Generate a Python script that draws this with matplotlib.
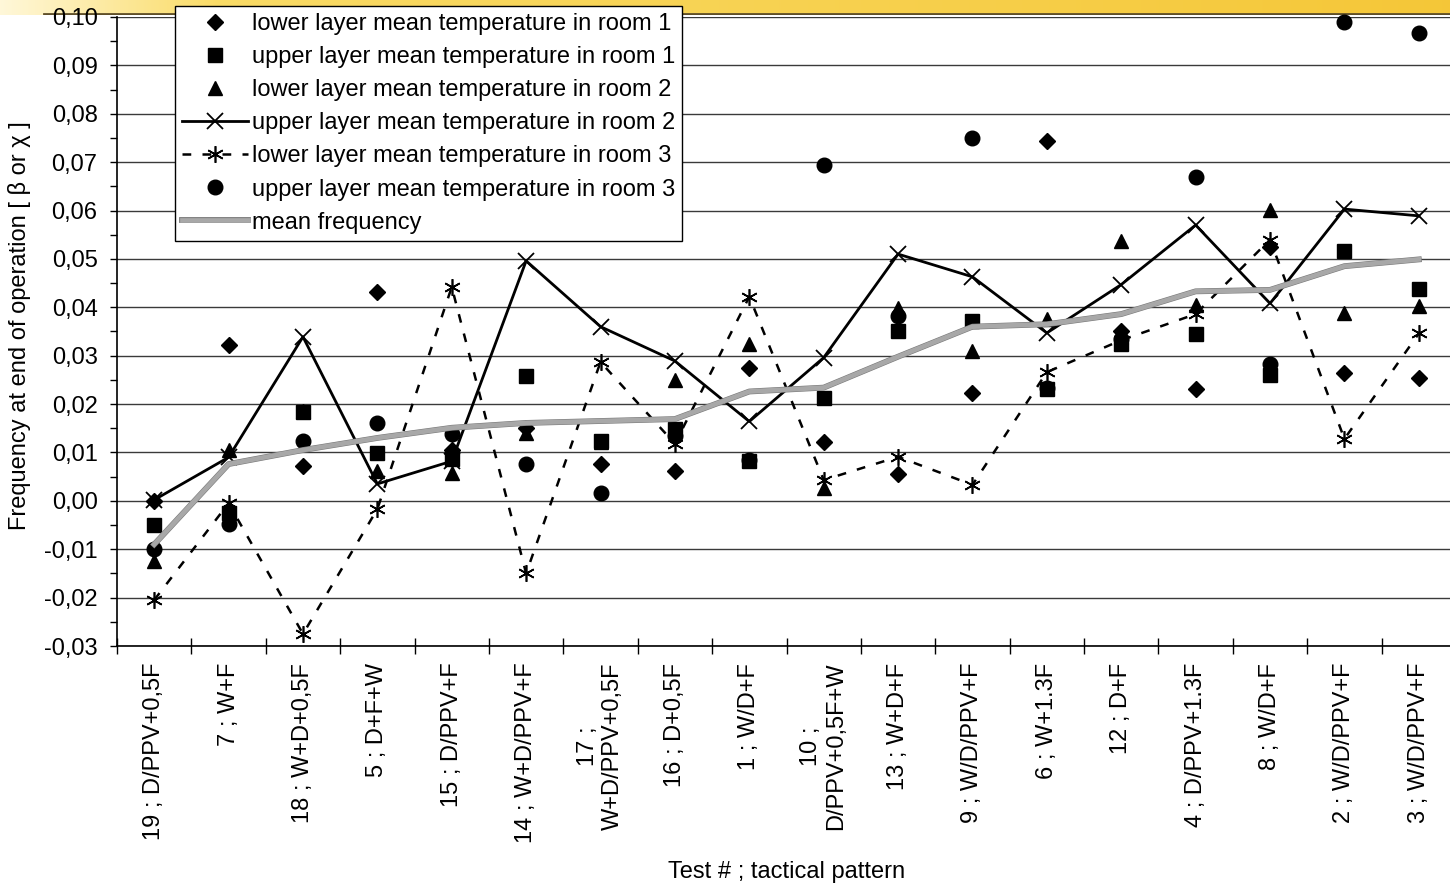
import numpy as np
import matplotlib
matplotlib.use('Agg')
import matplotlib.pyplot as plt
from matplotlib.ticker import FuncFormatter, MultipleLocator
import matplotlib.patheffects as pe

plt.rcParams['font.family'] = ['Liberation Sans', 'DejaVu Sans']

# x categories: test # ; tactical pattern
labels = ["19 ; D/PPV+0,5F", "7 ; W+F", "18 ; W+D+0,5F", "5 ; D+F+W",
          "15 ; D/PPV+F", "14 ; W+D/PPV+F", "17 ;\nW+D/PPV+0,5F", "16 ; D+0,5F",
          "1 ; W/D+F", "10 ;\nD/PPV+0,5F+W", "13 ; W+D+F", "9 ; W/D/PPV+F",
          "6 ; W+1.3F", "12 ; D+F", "4 ; D/PPV+1.3F", "8 ; W/D+F",
          "2 ; W/D/PPV+F", "3 ; W/D/PPV+F"]

# frequency values
lower_room1 = [0.0000, 0.0322, 0.0072, 0.0432, 0.0105, 0.0151, 0.0077, 0.0062, 0.0275,
               0.0122, 0.0056, 0.0223, 0.0744, 0.0351, 0.0231, 0.0524, 0.0265, 0.0254]
upper_room1 = [-0.0050, -0.0025, 0.0184, 0.0099, 0.0087, 0.0258, 0.0124, 0.0149, 0.0083,
               0.0213, 0.0351, 0.0372, 0.0232, 0.0324, 0.0345, 0.0260, 0.0516, 0.0437]
lower_room2 = [-0.0125, 0.0105, 0.0185, 0.0062, 0.0058, 0.0141, 0.0122, 0.0250, 0.0325,
               0.0027, 0.0399, 0.0310, 0.0376, 0.0537, 0.0405, 0.0602, 0.0389, 0.0403]
upper_room2 = [0.0002, 0.0090, 0.0339, 0.0035, 0.0082, 0.0496, 0.0360, 0.0289, 0.0164,
               0.0296, 0.0510, 0.0463, 0.0347, 0.0447, 0.0570, 0.0408, 0.0603, 0.0589]
lower_room3 = [-0.0205, -0.0005, -0.0275, -0.0017, 0.0442, -0.0150, 0.0287, 0.0118, 0.0422,
               0.0043, 0.0091, 0.0033, 0.0266, 0.0332, 0.0386, 0.0540, 0.0128, 0.0346]
upper_room3 = [-0.0100, -0.0047, 0.0124, 0.0161, 0.0138, 0.0076, 0.0016, 0.0135, 0.0085,
               0.0694, 0.0382, 0.0750, 0.0234, 0.0335, 0.0670, 0.0283, 0.0990, 0.0967]
mean_freq = [-0.0090, 0.0076, 0.0105, 0.0130, 0.0151, 0.0161, 0.0165, 0.0169, 0.0226,
             0.0234, 0.0298, 0.0360, 0.0365, 0.0386, 0.0433, 0.0436, 0.0485, 0.0499]

x = np.arange(len(labels))
fs = 17

fig = plt.figure(figsize=(14.5, 8.88), dpi=100)

# yellow brush banner at the top
ban = fig.add_axes([0, 1 - 15 / 888, 1, 15 / 888])
grad = np.linspace(0, 1, 512)
cols = np.zeros((1, 512, 3))
c0 = np.array([1.0, 0.97, 0.85])
c1 = np.array([0.98, 0.86, 0.40])
c2 = np.array([0.96, 0.78, 0.22])
for i, g in enumerate(grad):
    if g < 0.15:
        cols[0, i] = c0 + (c1 - c0) * g / 0.15
    else:
        cols[0, i] = c1 + (c2 - c1) * (g - 0.15) / 0.85
ban.imshow(cols, aspect='auto', extent=[0, 1, 0, 1])
ban.axhline(0.08, xmin=0.03, xmax=1, color='#5e4e28', lw=2)
ban.set_xlim(0, 1)
ban.set_ylim(0, 1)
ban.axis('off')

ax = fig.add_axes([117 / 1450, 1 - 646 / 888, 1339 / 1450, 629 / 888])

ms = 10.5
ax.plot(x, lower_room1, linestyle='none', marker='D', ms=8.5, color='black',
        label='lower layer mean temperature in room 1', zorder=3, clip_on=False)
ax.plot(x, upper_room1, linestyle='none', marker='s', ms=ms, color='black',
        label='upper layer mean temperature in room 1', zorder=3, clip_on=False)
ax.plot(x, lower_room2, linestyle='none', marker='^', ms=ms, color='black',
        label='lower layer mean temperature in room 2', zorder=3, clip_on=False)
ax.plot(x, upper_room2, linestyle='-', lw=2, marker='x', ms=11, mew=1.3, color='black',
        label='upper layer mean temperature in room 2', zorder=3, clip_on=False)
ax.plot(x, lower_room3, linestyle=(0, (3.5, 4.5)), lw=1.8, marker=(6, 2, 0), ms=12, mew=1.2,
        color='black', label='lower layer mean temperature in room 3', zorder=3, clip_on=False)
ax.plot(x, upper_room3, linestyle='none', marker='o', ms=ms, color='black',
        label='upper layer mean temperature in room 3', zorder=3, clip_on=False)
ax.plot(x, mean_freq, linestyle='-', lw=3.4, color='#a8a8a8',
        path_effects=[pe.Stroke(linewidth=4.2, foreground='#7a7a7a'), pe.Normal()],
        label='mean frequency', zorder=4)

ax.set_xlim(-0.5, len(labels) - 0.5)
ax.set_ylim(-0.03, 0.10)

# gridlines and ticks
ax.yaxis.set_major_locator(MultipleLocator(0.01))
ax.yaxis.set_minor_locator(MultipleLocator(0.005))
ax.yaxis.set_major_formatter(FuncFormatter(lambda v, p: f"{v:.2f}".replace('.', ',')))
ax.grid(axis='y', which='major', color='#3a3a3a', lw=1.0)
ax.set_axisbelow(True)
ax.tick_params(axis='y', which='both', direction='out', length=5, width=1, labelsize=fs, pad=9)

ax.set_xticks(np.arange(len(labels) + 1) - 0.5, minor=False)
ax.set_xticklabels([])
ax.set_xticks(x, minor=True)
ax.set_xticklabels(labels, minor=True, rotation=90, fontsize=fs, va='top', ha='center',
                   multialignment='center')
ax.tick_params(axis='x', which='major', direction='inout', length=12, width=1)
ax.tick_params(axis='x', which='minor', length=0, pad=12)

for s in ['top', 'right']:
    ax.spines[s].set_visible(False)
ax.spines['left'].set_linewidth(1.2)
ax.spines['bottom'].set_linewidth(1.2)

ax.set_ylabel('Frequency at end of operation [ β or χ ]', fontsize=fs)
ax.yaxis.set_label_coords(-0.064, 0.51)
fig.text(787 / 1450, 1 - 872 / 888, 'Test # ; tactical pattern', fontsize=fs,
         ha='center', va='center')

leg = fig.legend(loc='upper left', bbox_to_anchor=(175 / 1450, 1 - 6 / 888), fontsize=fs,
                 frameon=True, fancybox=False, edgecolor='black', framealpha=1,
                 borderpad=0.3, labelspacing=0.47, handlelength=2.8, handletextpad=0.15,
                 borderaxespad=0)
leg.get_frame().set_linewidth(1.0)
leg.set_zorder(10)

fig.savefig('out.png', dpi=100)
